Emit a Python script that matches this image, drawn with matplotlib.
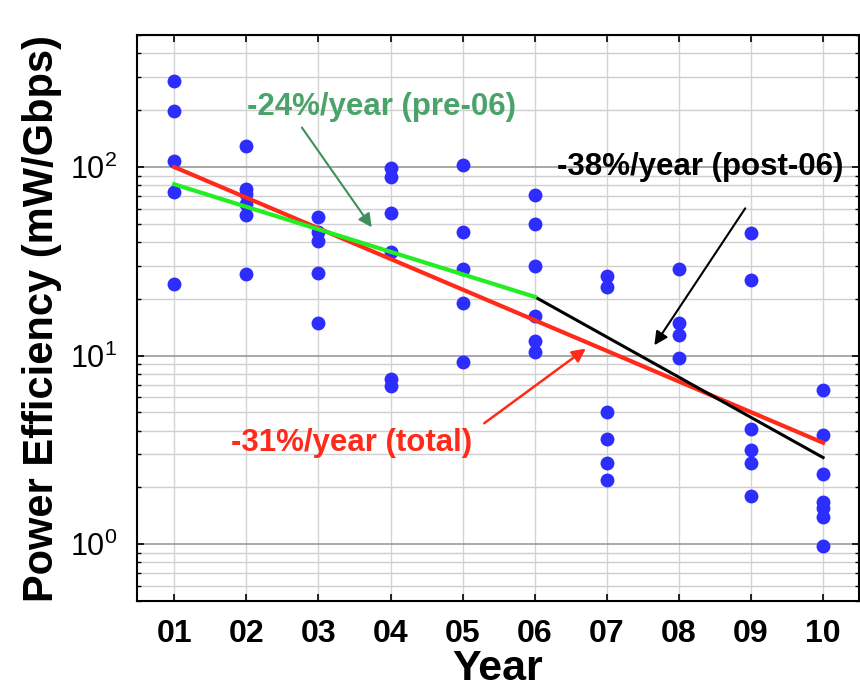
import matplotlib
matplotlib.use("Agg")
import matplotlib.pyplot as plt

plt.rcParams['font.family'] = ['Liberation Sans', 'DejaVu Sans']

### Data (mW/Gbps per year)
years = [1, 2, 3, 4, 5, 6, 7, 8, 9, 10]
year_labels = ['01', '02', '03', '04', '05', '06', '07', '08', '09', '10']
pts_01 = [286, 198, 107, 74, 24]
pts_02 = [130, 76, 72, 64, 56, 27]
pts_03 = [54, 45, 40.5, 27.4, 14.9]
pts_04 = [99, 88, 57, 35.5, 7.5, 6.9]
pts_05 = [103, 45, 28.7, 19, 9.2]
pts_06 = [71, 50, 29.8, 16.2, 12, 10.4]
pts_07 = [26.4, 23.1, 5.0, 3.6, 2.7, 2.2]
pts_08 = [28.8, 14.9, 12.9, 9.7]
pts_09 = [44.7, 25.1, 4.1, 3.15, 2.7, 1.8]
pts_10 = [6.6, 3.8, 2.37, 1.68, 1.55, 1.4, 0.98]
all_pts = [pts_01, pts_02, pts_03, pts_04, pts_05,
           pts_06, pts_07, pts_08, pts_09, pts_10]

### Trend lines (end points)
total_x = [1, 10]
total_y = [100, 3.45]
pre_x = [1, 6]
pre_y = [81, 20.5]
post_x = [6, 10]
post_y = [20.5, 2.88]

fig = plt.figure(figsize=(8.6, 6.9), dpi=100)
ax = fig.add_axes([0.159, 0.129, 0.840, 0.820])

for yr, vals in zip(years, all_pts):
    ax.plot([yr] * len(vals), vals, 'o', color='#2d2dff', markersize=10,
            markeredgewidth=0, zorder=3)

ax.plot(total_x, total_y, color='#ff2a1a', linewidth=3, zorder=4)
ax.plot(pre_x, pre_y, color='#22ee22', linewidth=3, zorder=5)
ax.plot(post_x, post_y, color='black', linewidth=2.2, zorder=4)

ax.set_yscale('log')
ax.set_ylim(0.5, 500)
ax.set_xlim(0.48, 10.5)

ax.set_xticks(years)
ax.set_xticklabels(year_labels, fontsize=23, fontweight='bold')
ax.set_yticks([1, 10, 100])
ax.set_yticklabels([r'$\mathregular{10^0}$', r'$\mathregular{10^1}$', r'$\mathregular{10^2}$'],
                   fontsize=22)
ax.tick_params(which='both', direction='in', top=True, right=True)
ax.tick_params(which='major', length=5, width=1.2)
ax.tick_params(axis='x', pad=13)
ax.tick_params(axis='y', pad=14)
ax.tick_params(which='minor', length=3, width=1)

ax.grid(which='major', axis='y', color='#9a9a9a', linewidth=1.2)
ax.grid(which='minor', axis='y', color='#cfcfcf', linewidth=1)
ax.grid(which='major', axis='x', color='#d4d4d4', linewidth=1)
ax.set_axisbelow(True)
for sp in ax.spines.values():
    sp.set_linewidth(1.5)

ax.set_xlabel('Year', fontsize=31, fontweight='bold', labelpad=0)
ax.set_ylabel('Power Efficiency (mW/Gbps)', fontsize=30, fontweight='bold', labelpad=6)

### Annotation texts
ax.text(3.87, 207, '-24%/year (pre-06)', fontsize=22.5, fontweight='bold',
        color='#4aa46a', ha='center', va='center')
ax.text(8.30, 100, '-38%/year (post-06)', fontsize=22.5, fontweight='bold',
        color='black', ha='center', va='center')
ax.text(3.46, 3.43, '-31%/year (total)', fontsize=22.5, fontweight='bold',
        color='#ff2a1a', ha='center', va='center')

### Arrows (head, tail)
ax.annotate('', xy=(3.74, 47.9), xytext=(2.77, 162),
            arrowprops=dict(arrowstyle='-|>', color='#3f8f5c', lw=1.5,
                            mutation_scale=20, shrinkA=0, shrinkB=0))
ax.annotate('', xy=(7.66, 11.35), xytext=(8.92, 60.4),
            arrowprops=dict(arrowstyle='-|>', color='black', lw=1.5,
                            mutation_scale=20, shrinkA=0, shrinkB=0))
ax.annotate('', xy=(6.71, 10.9), xytext=(5.30, 4.38),
            arrowprops=dict(arrowstyle='-|>', color='#ff2a1a', lw=1.8,
                            mutation_scale=20, shrinkA=0, shrinkB=0))

plt.savefig('out.png', dpi=100)
plt.close()
